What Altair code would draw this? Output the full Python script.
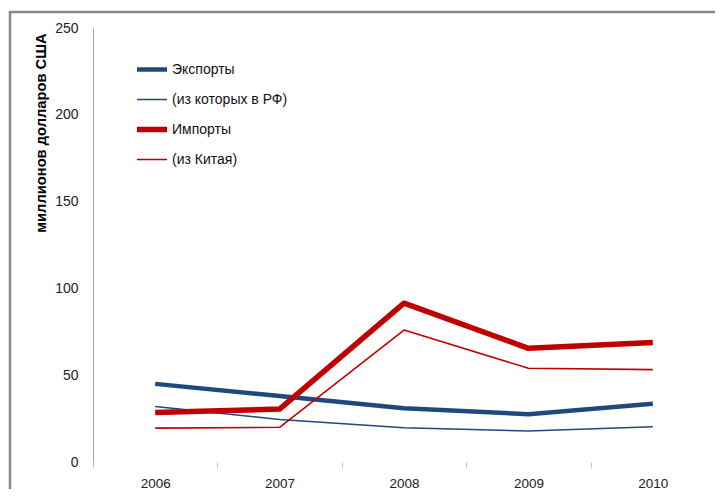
import altair as alt
import pandas as pd

years = ["2006", "2007", "2008", "2009", "2010"]
series_names = ["Экспорты", "(из которых в РФ)", "Импорты", "(из Китая)"]
exports = [45.0, 38.0, 31.0, 27.5, 33.5]
exports_rf = [32.0, 24.5, 19.8, 17.9, 20.3]
imports = [28.5, 30.5, 91.5, 65.5, 68.8]
imports_cn = [19.5, 20.0, 76.0, 54.0, 53.2]

series_colors = ["#1F497D", "#1F497D", "#C00000", "#C00000"]
series_widths = [4.5, 1.5, 5.5, 1.6]

rows = []
for name, vals in zip(series_names, [exports, exports_rf, imports, imports_cn]):
    for y, v in zip(years, vals):
        rows.append({"year": y, "series": name, "value": v})
df = pd.DataFrame(rows)

FONT = "Liberation Sans"

legend_kw = dict(title=None, orient="none", legendX=41, legendY=33,
                 symbolType="stroke", symbolSize=900, padding=0,
                 labelFontSize=14, labelFont=FONT, labelColor="#111111",
                 labelOffset=2, clipHeight=17, rowPadding=13)

lines = alt.Chart(df).mark_line(strokeJoin="round", strokeCap="butt").encode(
    x=alt.X("year:O", sort=years,
            scale=alt.Scale(type="band", paddingInner=0, paddingOuter=0),
            axis=alt.Axis(title=None, domain=False, tickBand="extent",
                          tickColor="#BFBFBF", tickSize=5, labelAngle=0,
                          labelPadding=9, labelFontSize=13.5, labelColor="#222222",
                          labelFont=FONT)),
    y=alt.Y("value:Q", scale=alt.Scale(domain=[0, 250], nice=False),
            axis=alt.Axis(title="миллионов долларов США", values=[0, 50, 100, 150, 200, 250],
                          ticks=False, grid=False, domainColor="#A6A6A6",
                          labelPadding=15, labelFontSize=14, labelColor="#222222",
                          labelFont=FONT, titleFont=FONT, titleFontSize=14.7,
                          titleFontWeight="bold", titleColor="#000000",
                          titleX=-48, titleY=5, titleAlign="right", titleAngle=270,
                          titleBaseline="alphabetic")),
    color=alt.Color("series:N", sort=series_names,
                    scale=alt.Scale(domain=series_names, range=series_colors),
                    legend=alt.Legend(**legend_kw)),
    strokeWidth=alt.StrokeWidth("series:N", sort=series_names,
                                scale=alt.Scale(type="ordinal", domain=series_names,
                                                range=series_widths),
                                legend=alt.Legend(**legend_kw)),
    detail="series:N",
)

frame_data = alt.Data(values=[{"k": 1}])
frame_top = alt.Chart(frame_data).mark_rule(stroke="#878787", strokeWidth=2.5).encode(
    x=alt.value(-83), x2=alt.value(1000), y=alt.value(-16))
frame_left = alt.Chart(frame_data).mark_rule(stroke="#878787", strokeWidth=2.5).encode(
    x=alt.value(-83), y=alt.value(-17), y2=alt.value(1000))

chart = alt.layer(frame_top, frame_left, lines).properties(
    width=622, height=434,
    autosize=alt.AutoSizeParams(type="none"),
    padding={"left": 85, "top": 20, "right": 0, "bottom": 27},
).configure_view(stroke=None)

chart.save("out.html", embed_options={"renderer": "svg", "actions": False})
